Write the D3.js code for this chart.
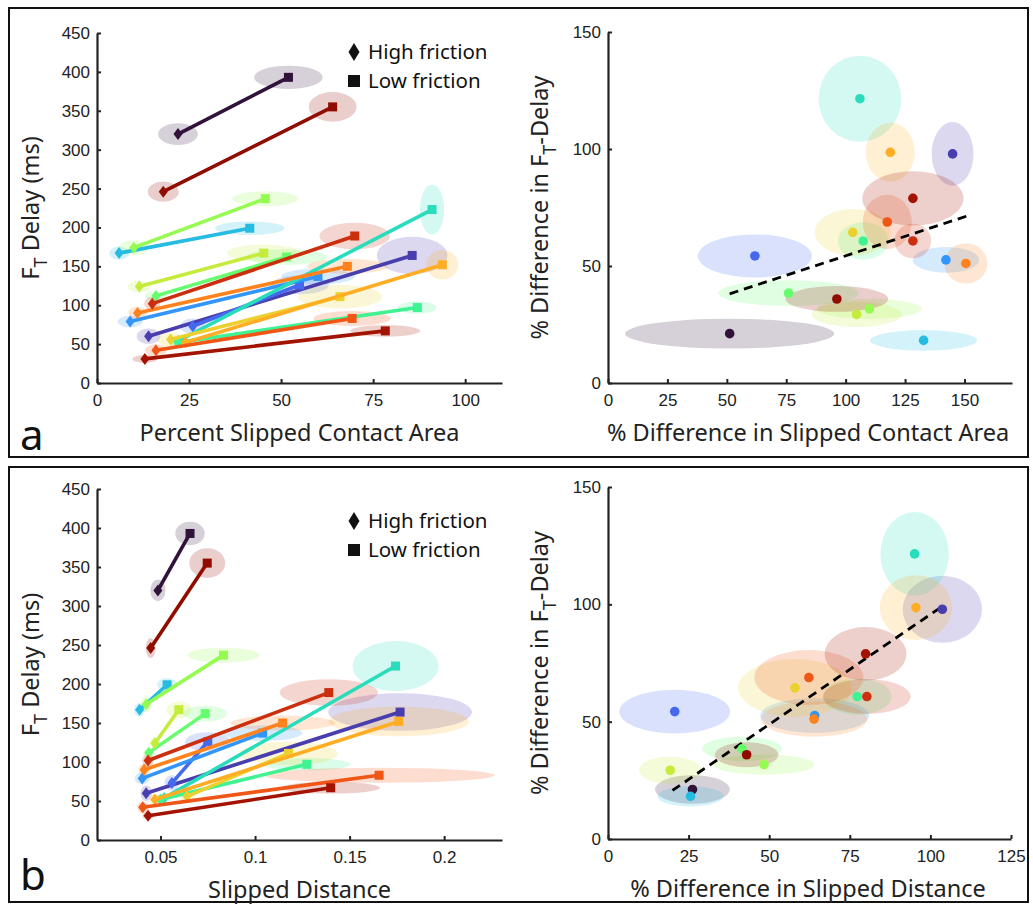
<!DOCTYPE html>
<html><head><meta charset="utf-8">
<script src="https://cdn.jsdelivr.net/npm/d3@7"></script>
<style>
body{margin:0;background:#fff;}
svg{display:block;font-family:"Noto Sans","Open Sans",Arial,sans-serif;}
</style>
</head><body>
<svg id="c" width="1033" height="906"></svg>
<script>
// ---------- DATA ----------
// 17 participants, colored along the turbo colormap (index 0..16)
const participants = d3.range(17);
// FT delay (ms): high friction (diamond) and low friction (square)
const delayHigh   = [320, 60, 73, 79,167, 54, 52,112,174,124, 56, 52, 90, 42,102, 31,246];
const delayLow    = [393,164,126,137,199,223, 97,162,237,167,111,152,150, 83,189, 67,355];
const delayHighSD = [ 14, 10, 10,7.5,8.6,  6,  6,  6, 10,7.5,  9,  7,  8,7.5,  9,  5, 13];
const delayLowSD  = [ 15, 24, 12, 10,8.6, 32,  8, 10,9.6, 11, 15, 19,9.6,9.6, 17,7.5, 19];
// Percent slipped contact area
const areaHigh    = [ 22, 14, 26,  9,  6, 22, 22, 16, 10,11.5,20, 24, 11, 16, 15, 13, 18];
const areaLow     = [ 52,85.6,55, 60,41.5,91, 87,51.5,45.7,45.3,66,93.8,68,69.3,70,78.3,64];
const areaHighSD  = [5.4,3.2,3.4,3.4,2.7,  2,2.5,  3,  4,3.2,3.6,2.5,2.5,  3,2.2,3.4,4.2];
const areaLowSD   = [9.3,9.6,  8, 10,9.5,3.3,5.2, 11,  9, 10,11.4,4.3,11,10.5,9.6,9.5,6.5];
// Slipped distance
const distHigh    = [0.0486,0.0424,0.056,0.0403,0.0389,0.052,0.050,0.0438,0.0424,0.047,0.064,0.047,0.0413,0.0406,0.0434,0.0434,0.0448];
const distLow     = [0.0656,0.1767,0.075,0.104,0.0535,0.1743,0.1274,0.0736,0.0833,0.0597,0.1177,0.176,0.1146,0.1656,0.139,0.140,0.0747];
const distHighSD  = [0.004,0.003,0.004,0.004,0.003,0.003,0.003,0.003,0.003,0.003,0.004,0.003,0.003,0.003,0.003,0.003,0.0026];
const distLowSD   = [0.0078,0.038,0.012,0.021,0.0053,0.0228,0.023,0.0115,0.019,0.0066,0.026,0.037,0.0277,0.061,0.026,0.026,0.0095];
// % difference in FT delay (shared by both right panels)
const pctDelay    = [21.1,97.9,54.3,52.6,18.2,121.5,60.7,38.4,31.7,29.3,64.4,98.6,51.1,68.8,60.7,78.9,35.9];
const pctDelaySDa = [6.4,13.6,9.2,5.5,4.4,18.4,8,5.5,4.3,5.4,10,12.6,8.6,11.6,7.4,11.6,5.5];
const pctDelaySDb = [6.1,14.3,9.3,7.4,4.3,17.8,7.7,5.2,4.3,5.8,12.3,13.8,7.5,11.7,7.4,11.4,5.3];
// % difference in slipped contact area / slipped distance
const pctArea     = [51.2,145,61.8,142.2,132.8,106,107.4,76,110,104.6,103,118.8,150.6,117.5,128.3,128.3,96.3];
const pctAreaSD   = [44,8.8,24,14,22.5,17.4,10.6,29.5,22,19,16,10.3,9,10.3,7.7,21.3,21.6];
const pctDist     = [26.2,103.7,20.7,64.1,25.6,95.1,77.3,41.6,48.4,19.3,58,95.5,63.9,62.3,80.3,79.9,43];
const pctDistSD   = [11.6,12.3,17.2,16.9,10.2,10.6,10.7,12.4,15.6,9.6,17.6,11.2,16.5,16.9,13.6,12.7,9.9];
// regression line endpoints [x0,x1],[y0,y1]
const fitAreaX = [51.2, 150.9], fitAreaY = [38.1, 71.3];
const fitDistX = [20, 103.3],   fitDistY = [20.7, 98.8];
// tick labels
const leftYTicks = [0,50,100,150,200,250,300,350,400,450];
const areaTicks = [0,25,50,75,100];
const distTicks = [0.05,0.1,0.15,0.2];
const pctAreaTicks = [0,25,50,75,100,125,150];
const pctDistTicks = [0,25,50,75,100,125];
const pctDelayTicks = [0,50,100,150];

const color = i => i === 0 ? "#30123b" : d3.interpolateTurbo(i/16);

// ---------- DRAW ----------
const svg = d3.select("#c");
svg.append("rect").attr("x",9).attr("y",8).attr("width",1019).attr("height",449)
  .attr("fill","none").attr("stroke","#111").attr("stroke-width",2);
svg.append("rect").attr("x",9).attr("y",467).attr("width",1019).attr("height",435)
  .attr("fill","none").attr("stroke","#111").attr("stroke-width",2);

const AX = "#222";
const TITLE = "23.5px";
function axes(g, x, y, xt, yt, xfmt){
  const ax = g.append("g").attr("transform",`translate(0,${y.range()[0]})`)
    .call(d3.axisBottom(x).tickValues(xt).tickSizeInner(-4).tickSizeOuter(0).tickPadding(11).tickFormat(xfmt||d3.format("d")));
  const ay = g.append("g").attr("transform",`translate(${x.range()[0]},0)`)
    .call(d3.axisLeft(y).tickValues(yt).tickSizeInner(-4).tickSizeOuter(0).tickPadding(7).tickFormat(d3.format("d")));
  [ax,ay].forEach(a=>{
    a.select(".domain").attr("stroke",AX).attr("stroke-width",2.2);
    a.selectAll(".tick line").attr("stroke",AX).attr("stroke-width",2);
    a.selectAll(".tick text").attr("fill","#222").style("font-size","17px").style("font-family","inherit");
  });
}

function diamond(sel, cx, cy, w, h){
  sel.attr("d", `M${cx},${cy-h/2}L${cx+w/2},${cy}L${cx},${cy+h/2}L${cx-w/2},${cy}Z`);
}

function leftPanel(xScale, yScale, xh, xl, xhSD, xlSD, xTicks, xfmt, xTitle, legY){
  const g = svg.append("g");
  participants.forEach(i=>{
    [[xh[i],delayHigh[i],xhSD[i],delayHighSD[i]],[xl[i],delayLow[i],xlSD[i],delayLowSD[i]]].forEach(e=>{
      g.append("ellipse").attr("cx",xScale(e[0])).attr("cy",yScale(e[1]))
        .attr("rx",Math.abs(xScale(e[0]+e[2])-xScale(e[0])))
        .attr("ry",Math.abs(yScale(e[1]+e[3])-yScale(e[1])))
        .attr("fill",color(i)).attr("fill-opacity",0.2);
    });
  });
  participants.forEach(i=>{
    const c = color(i);
    const x1=xScale(xh[i]), y1=yScale(delayHigh[i]), x2=xScale(xl[i]), y2=yScale(delayLow[i]);
    g.append("line").attr("x1",x1).attr("y1",y1).attr("x2",x2).attr("y2",y2)
      .attr("stroke",c).attr("stroke-width",3.6);
    diamond(g.append("path").attr("fill",c), x1, y1, 9, 12);
    g.append("rect").attr("x",x2-4.5).attr("y",y2-4.5).attr("width",9).attr("height",9).attr("fill",c);
  });
  axes(g, xScale, yScale, xTicks, leftYTicks, xfmt);
  const yMid = (yScale.range()[0]+yScale.range()[1])/2;
  const t = g.append("text").attr("transform",`translate(39,${yMid}) rotate(-90)`)
    .attr("text-anchor","middle").style("font-size",TITLE).attr("fill","#222");
  t.append("tspan").text("F");
  t.append("tspan").text("T").attr("dy",8).style("font-size","18px");
  t.append("tspan").text(" Delay (ms)").attr("dy",-8);
  g.append("text").attr("x",(xScale.range()[0]+xScale.range()[1])/2).attr("y",yScale.range()[0]+58)
    .attr("text-anchor","middle").style("font-size",TITLE).attr("fill","#222").text(xTitle);
  // legend
  diamond(g.append("path").attr("fill","#111"), 354, legY, 11, 18);
  g.append("text").attr("x",368).attr("y",legY+7).style("font-size","20.5px").attr("fill","#111").text("High friction");
  g.append("rect").attr("x",348).attr("y",legY+23).attr("width",12).attr("height",12).attr("fill","#111");
  g.append("text").attr("x",368).attr("y",legY+36).style("font-size","20.5px").attr("fill","#111").text("Low friction");
}

function rightPanel(xScale, yScale, px, pxSD, pySD, xTicks, fitX, fitY, xTitle){
  const g = svg.append("g");
  participants.forEach(i=>{
    g.append("ellipse").attr("cx",xScale(px[i])).attr("cy",yScale(pctDelay[i]))
      .attr("rx",xScale(px[i]+pxSD[i])-xScale(px[i]))
      .attr("ry",yScale(pctDelay[i])-yScale(pctDelay[i]+pySD[i]))
      .attr("fill",color(i)).attr("fill-opacity",0.2);
  });
  g.append("line").attr("x1",xScale(fitX[0])).attr("y1",yScale(fitY[0]))
    .attr("x2",xScale(fitX[1])).attr("y2",yScale(fitY[1]))
    .attr("stroke","#000").attr("stroke-width",2.8).attr("stroke-dasharray","9,6");
  participants.forEach(i=>{
    g.append("circle").attr("cx",xScale(px[i])).attr("cy",yScale(pctDelay[i])).attr("r",4.8)
      .attr("fill",color(i));
  });
  axes(g, xScale, yScale, xTicks, pctDelayTicks);
  const yMid = (yScale.range()[0]+yScale.range()[1])/2;
  const t = g.append("text").attr("transform",`translate(548,${yMid}) rotate(-90)`)
    .attr("text-anchor","middle").style("font-size",TITLE).attr("fill","#222");
  t.append("tspan").text("% Difference in F");
  t.append("tspan").text("T").attr("dy",8).style("font-size","18px");
  t.append("tspan").text("-Delay").attr("dy",-8);
  g.append("text").attr("x",808).attr("y",yScale.range()[0]+58)
    .attr("text-anchor","middle").style("font-size",TITLE).attr("fill","#222").text(xTitle);
}

// top row
leftPanel(d3.scaleLinear([0,110],[97,502]), d3.scaleLinear([0,450],[383,33]),
  areaHigh, areaLow, areaHighSD, areaLowSD, areaTicks, d3.format("d"), "Percent Slipped Contact Area", 52);
rightPanel(d3.scaleLinear([0,170],[608,1012]), d3.scaleLinear([0,150],[383,32]),
  pctArea, pctAreaSD, pctDelaySDa, pctAreaTicks, fitAreaX, fitAreaY, "% Difference in Slipped Contact Area");
// bottom row
leftPanel(d3.scaleLinear([0.0164,0.2306],[97,502]), d3.scaleLinear([0,450],[840,489]),
  distHigh, distLow, distHighSD, distLowSD, distTicks, d => String(d), "Slipped Distance", 521);
rightPanel(d3.scaleLinear([0,125],[608,1011]), d3.scaleLinear([0,150],[839,487]),
  pctDist, pctDistSD, pctDelaySDb, pctDistTicks, fitDistX, fitDistY, "% Difference in Slipped Distance");

svg.append("text").attr("x",20).attr("y",450).style("font-size","42px").attr("fill","#111").text("a");
svg.append("text").attr("x",20).attr("y",890).style("font-size","42px").attr("fill","#111").text("b");
</script>
</body></html>
